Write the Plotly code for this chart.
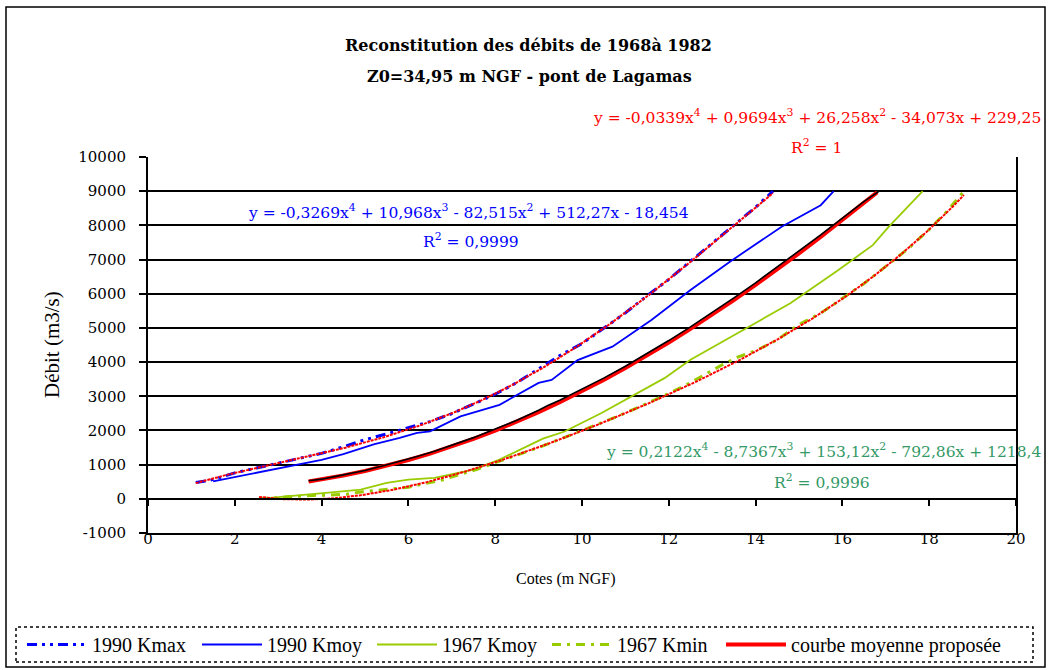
import numpy as np
import plotly.graph_objects as go

# ---- Série 1990 Kmax (cote en m, débit en m3/s)
cote_kmax = [1.1, 1.4, 1.7, 2.0, 2.5, 3.0, 3.5, 4.0, 4.5, 5.0, 5.5, 6.0, 6.5, 7.0, 7.5,
             8.0, 8.5, 9.0, 9.5, 10.0, 10.5, 11.0, 11.5, 12.0, 12.5, 13.0, 13.5, 14.0, 14.4]
debit_kmax = [480, 530, 640, 760, 900, 1050, 1190, 1330, 1520, 1730, 1900, 2080, 2260, 2490, 2770,
              3060, 3400, 3800, 4200, 4540, 4980, 5440, 5940, 6420, 6950, 7470, 7990, 8530, 9000]

# ---- Série 1990 Kmoy
cote_kmoy90 = [1.5, 2.1, 2.9, 3.5, 4.0, 4.5, 4.8, 5.2, 5.8, 6.2, 6.5, 7.2, 8.1, 8.5, 9.0,
               9.3, 9.9, 10.7, 11.6, 12.5, 13.4, 14.6, 15.5, 15.8]
debit_kmoy90 = [510, 660, 855, 1000, 1140, 1310, 1430, 1590, 1780, 1930, 1975, 2410, 2750, 3040, 3390,
                3480, 4060, 4450, 5230, 6110, 6930, 7960, 8590, 9000]

# ---- Série 1967 Kmoy
cote_kmoy67 = [2.55, 3.3, 4.1, 4.9, 5.5, 6.0, 6.6, 7.5, 8.1, 9.1, 9.6, 10.45, 11.2,
               11.9, 12.5, 13.7, 14.8, 15.9, 16.7, 17.06, 17.5, 17.85]
debit_kmoy67 = [0, 75, 175, 270, 465, 560, 615, 855, 1150, 1760, 1970, 2510, 3040,
                3530, 4070, 4940, 5720, 6690, 7420, 7950, 8540, 9000]

# ---- Série 1967 Kmin
cote_kmin = [2.56, 2.9, 3.2, 3.5, 3.8, 4.2, 4.6, 4.9, 5.3, 5.7, 6.0, 6.4, 6.8, 7.2, 7.6, 8.0,
             8.5, 9.0, 9.5, 10.0, 10.5, 11.0, 11.5, 12.0, 12.5, 12.8, 13.2, 13.6, 14.0, 14.5,
             15.0, 15.5, 16.0, 16.5, 17.0, 17.5, 18.0, 18.4, 18.8]
debit_kmin = [10, 20, 60, 90, 100, 110, 140, 200, 260, 300, 340, 440, 560, 720, 870, 1060,
              1270, 1500, 1750, 1990, 2250, 2510, 2790, 3080, 3400, 3620, 3900, 4150, 4330, 4650,
              5100, 5430, 5860, 6300, 6800, 7300, 7880, 8400, 9000]

# ---- Courbe moyenne calculée (trait noir)
cote_noire = [3.7, 4.0, 4.3, 4.6, 5.0, 5.4, 5.8, 6.2, 6.6, 7.0, 7.5, 8.0, 8.5, 9.0, 9.2, 9.5,
              10.0, 10.5, 11.0, 11.5, 12.0, 12.5, 13.0, 13.5, 14.0, 14.5, 15.0, 15.5, 16.0, 16.5, 16.85]
debit_noire = [530, 575, 650, 720, 830, 960, 1090, 1240, 1390, 1560, 1790, 2040, 2300, 2590, 2720, 2890,
               3200, 3530, 3880, 4250, 4630, 5030, 5450, 5880, 6320, 6780, 7250, 7720, 8210, 8700, 9000]

# ---- Courbe moyenne proposée : cotes retenues et polynôme d'ajustement (R² = 1)
cote_moy = [3.7, 4.0, 4.5, 5.0, 5.5, 6.0, 6.5, 7.0, 7.5, 8.0, 8.5, 9.0, 9.5, 10.0, 10.5, 11.0,
            11.5, 12.0, 12.5, 13.0, 13.5, 14.0, 14.5, 15.0, 15.5, 16.0, 16.5, 16.8]
coef_moy = [-0.0339, 0.9694, 26.258, -34.073, 229.25]
coef_kmax = [-0.3269, 10.968, -82.515, 512.27, -18.454]
coef_kmin = [0.2122, -8.7367, 153.12, -792.86, 1218.4]

x_ticks = list(range(0, 21, 2))
y_ticks = list(range(-1000, 10001, 1000))
y_tick_text = [str(v) for v in y_ticks]

# ---- Géométrie de la page (pixels)
W, H = 1048, 670
PL, PR, PT, PB = 148, 1016, 157, 533


def px(x):
    return (x - PL) / (PR - PL)


def py(y):
    return (PB - y) / (PB - PT)


BLUE = "#0000FF"
GREEN = "#99CC00"
RED = "#FF0000"
SEA = "#339966"

fig = go.Figure()

fig.add_trace(go.Scatter(x=cote_kmax, y=debit_kmax, mode="lines", name="1990 Kmax",
                         line=dict(color=BLUE, width=3, dash="10px,5px,3px,5px,3px,5px")))
fig.add_trace(go.Scatter(x=cote_kmoy90, y=debit_kmoy90, mode="lines", name="1990 Kmoy",
                         line=dict(color=BLUE, width=1.8)))
fig.add_trace(go.Scatter(x=cote_kmoy67, y=debit_kmoy67, mode="lines", name="1967 Kmoy",
                         line=dict(color=GREEN, width=1.8)))
fig.add_trace(go.Scatter(x=cote_kmin, y=debit_kmin, mode="lines", name="1967 Kmin",
                         line=dict(color=GREEN, width=3, dash="9px,6px,3px,6px")))

# courbes de tendance polynomiales (ordre 4)
for cotes, coef in ((cote_kmax, coef_kmax), (cote_kmin, coef_kmin)):
    xs = np.linspace(min(cotes), max(cotes), 300)
    fig.add_trace(go.Scatter(x=xs, y=np.polyval(coef, xs), mode="lines", showlegend=False,
                             hoverinfo="skip", line=dict(color=RED, width=2, dash="3px,1px")))

fig.add_trace(go.Scatter(x=cote_moy, y=np.polyval(coef_moy, cote_moy), mode="lines",
                         name="courbe moyenne proposée", legend="legend2",
                         line=dict(color=RED, width=4)))
fig.add_trace(go.Scatter(x=cote_noire, y=debit_noire, mode="lines", showlegend=False,
                         line=dict(color="black", width=1.6)))

# axe des abscisses tracé à débit nul (ticks seulement)
fig.add_trace(go.Scatter(x=[0, 20], y=[0, 0], xaxis="x2", mode="lines", showlegend=False,
                         hoverinfo="skip", line=dict(width=0)))

serif = "DejaVu Serif"
times = "Liberation Serif"

annotations = [
    dict(text="<b>Reconstitution des débits de 1968à 1982</b>", x=px(528), y=py(45),
         font=dict(family=serif, size=16)),
    dict(text="<b>Z0=34,95 m NGF - pont de Lagamas</b>", x=px(529), y=py(77),
         font=dict(family=serif, size=16)),
    dict(text="y = -0,0339x<sup>4</sup> + 0,9694x<sup>3</sup> + 26,258x<sup>2</sup> - 34,073x + 229,25",
         x=px(1043), y=py(116), xanchor="right", font=dict(family=serif, size=15.5, color=RED)),
    dict(text="R<sup>2</sup> = 1", x=px(816), y=py(146), font=dict(family=serif, size=15.5, color=RED)),
    dict(text="y = -0,3269x<sup>4</sup> + 10,968x<sup>3</sup> - 82,515x<sup>2</sup> + 512,27x - 18,454",
         x=px(246), y=py(211), xanchor="left", font=dict(family=serif, size=15.5, color=BLUE)),
    dict(text="R<sup>2</sup> = 0,9999", x=px(471), y=py(240), font=dict(family=serif, size=15.5, color=BLUE)),
    dict(text="y = 0,2122x<sup>4</sup> - 8,7367x<sup>3</sup> + 153,12x<sup>2</sup> - 792,86x + 1218,4",
         x=px(1043), y=py(450), xanchor="right", font=dict(family=serif, size=15.5, color=SEA)),
    dict(text="R<sup>2</sup> = 0,9996", x=px(822), y=py(481), font=dict(family=serif, size=15.5, color=SEA)),
    dict(text="Débit (m3/s)", x=px(52), y=py(345), textangle=-90,
         font=dict(family=times, size=21)),
    dict(text="Cotes (m NGF)", x=px(566), y=py(579), font=dict(family=times, size=16)),
]
for a in annotations:
    a.update(xref="paper", yref="paper", showarrow=False)
    a.setdefault("xanchor", "center")
    a.setdefault("yanchor", "middle")
    a["font"].setdefault("color", "black")

shapes = [
    # cadre de la zone graphique
    dict(type="rect", xref="paper", yref="paper", x0=px(6), x1=px(1045), y0=py(667), y1=py(7),
         line=dict(color="black", width=1.5)),
    # cadre de la légende
    dict(type="rect", xref="paper", yref="paper", x0=px(16), x1=px(1033), y0=py(662), y1=py(627),
         line=dict(color="black", width=1.5, dash="dot")),
]

legend_style = dict(orientation="h", xanchor="left", y=py(625), yanchor="top",
                    font=dict(family=times, size=20), itemwidth=60,
                    bgcolor="rgba(0,0,0,0)", borderwidth=0)

fig.update_layout(
    width=W, height=H,
    margin=dict(l=PL, r=W - PR, t=PT, b=H - PB, pad=0, autoexpand=False),
    paper_bgcolor="white", plot_bgcolor="white",
    font=dict(family=serif, color="black"),
    showlegend=True,
    legend=dict(legend_style, x=px(22), entrywidth=100, entrywidthmode="pixels"),
    legend2=dict(legend_style, x=px(721)),
    xaxis=dict(range=[0, 20], tickvals=x_ticks, showgrid=False, zeroline=False,
               showline=True, linecolor="black", linewidth=2, ticks="",
               ticklabelstandoff=-9, tickfont=dict(family=serif, size=15)),
    xaxis2=dict(range=[0, 20], tickvals=x_ticks, overlaying="x", anchor="free",
                position=1 / 11, showgrid=False, zeroline=False, showline=True,
                linecolor="black", linewidth=2, ticks="outside", ticklen=6, tickwidth=2,
                tickcolor="black", showticklabels=False),
    yaxis=dict(range=[-1000, 10000], tickvals=y_ticks, ticktext=y_tick_text, showgrid=True,
               gridcolor="black", gridwidth=1.5, zeroline=False, showline=True,
               linecolor="black", linewidth=2, mirror=True, ticks="outside", ticklen=7,
               tickwidth=1.5, tickcolor="black", ticklabelstandoff=10,
               tickfont=dict(family=serif, size=15)),
    annotations=annotations,
    shapes=shapes,
)

fig.write_html("out.html")
